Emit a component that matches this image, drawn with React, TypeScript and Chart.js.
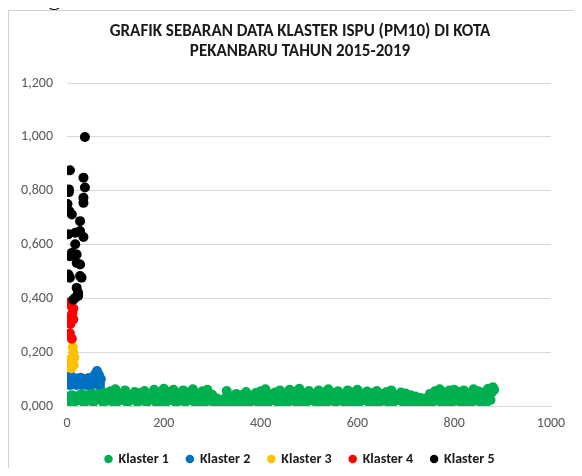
import React, { useEffect, useRef } from 'react';
import { Chart, registerables } from 'chart.js';

Chart.register(...registerables);

const titleLines = ['GRAFIK SEBARAN DATA KLASTER ISPU (PM10) DI KOTA', 'PEKANBARU TAHUN 2015-2019'];
const seriesNames = ['Klaster 1', 'Klaster 2', 'Klaster 3', 'Klaster 4', 'Klaster 5'];
const seriesColors = ['#00B050', '#0070C0', '#FFC000', '#FF0000', '#000000'];
const xTickLabels = ['0', '200', '400', '600', '800', '1000'];
const yTickLabels = ['0,000', '0,200', '0,400', '0,600', '0,800', '1,000', '1,200'];

// Klaster 1: data index step 5 (index 0..880), plus in-between samples (index 2.5..882.5)
const klaster1Step = 5;
const klaster1Y = [
  0.035, 0.018, 0.040, 0.015, 0.030, 0.022, 0.045, 0.012, 0.038, 0.020,
  0.050, 0.015, 0.042, 0.025, 0.060, 0.013, 0.048, 0.020, 0.055, 0.016,
  0.062, 0.018, 0.045, 0.022, 0.058, 0.012, 0.040, 0.025, 0.052, 0.015,
  0.048, 0.020, 0.056, 0.014, 0.044, 0.024, 0.060, 0.012, 0.050, 0.018,
  0.064, 0.016, 0.052, 0.022, 0.060, 0.013, 0.047, 0.020, 0.058, 0.015,
  0.050, 0.022, 0.062, 0.012, 0.045, 0.018, 0.055, 0.014, 0.060, 0.020,
  0.042, 0.012, 0.028, 0.006, 0.022, 0.008, 0.056, 0.010, 0.035, 0.015,
  0.045, 0.012, 0.040, 0.018, 0.052, 0.010, 0.038, 0.020, 0.048, 0.014,
  0.055, 0.016, 0.062, 0.012, 0.044, 0.022, 0.050, 0.015, 0.058, 0.018,
  0.046, 0.014, 0.060, 0.020, 0.052, 0.012, 0.064, 0.018, 0.048, 0.015,
  0.056, 0.022, 0.045, 0.013, 0.058, 0.018, 0.050, 0.012, 0.062, 0.020,
  0.048, 0.015, 0.055, 0.020, 0.044, 0.012, 0.058, 0.018, 0.050, 0.014,
  0.060, 0.016, 0.046, 0.022, 0.054, 0.012, 0.048, 0.018, 0.056, 0.014,
  0.045, 0.020, 0.052, 0.012, 0.058, 0.016, 0.042, 0.022, 0.050, 0.013,
  0.046, 0.018, 0.040, 0.012, 0.035, 0.010, 0.030, 0.008, 0.028, 0.014,
  0.045, 0.016, 0.055, 0.020, 0.062, 0.012, 0.050, 0.018, 0.058, 0.014,
  0.060, 0.020, 0.052, 0.012, 0.058, 0.018, 0.046, 0.015, 0.062, 0.020,
  0.055, 0.014, 0.050, 0.010, 0.064, 0.022, 0.070,
];
const klaster1MidY = [
  0.028, 0.032, 0.025, 0.036, 0.030, 0.027, 0.034, 0.029, 0.031, 0.026,
  0.035, 0.030, 0.040, 0.028, 0.033, 0.038, 0.030, 0.036, 0.027, 0.034,
  0.030, 0.038, 0.032, 0.042, 0.028, 0.035, 0.031, 0.037, 0.029, 0.040,
  0.033, 0.028, 0.036, 0.031, 0.040, 0.027, 0.034, 0.038, 0.030, 0.035,
  0.029, 0.040, 0.033, 0.036, 0.028, 0.042, 0.031, 0.035, 0.030, 0.038,
  0.034, 0.030, 0.037, 0.028, 0.040, 0.033, 0.029, 0.036, 0.031, 0.035,
  0.028, 0.020, 0.016, 0.018, 0.014, 0.030, 0.025, 0.022, 0.028, 0.030,
  0.032, 0.028, 0.035, 0.030, 0.027, 0.036, 0.031, 0.034, 0.029, 0.037,
  0.030, 0.036, 0.028, 0.040, 0.033, 0.029, 0.038, 0.032, 0.035, 0.030,
  0.037, 0.031, 0.034, 0.028, 0.040, 0.033, 0.030, 0.036, 0.029, 0.035,
  0.031, 0.038, 0.030, 0.035, 0.028, 0.040, 0.032, 0.036, 0.030, 0.034,
  0.036, 0.029, 0.033, 0.038, 0.030, 0.035, 0.028, 0.037, 0.032, 0.030,
  0.034, 0.030, 0.038, 0.029, 0.035, 0.032, 0.036, 0.028, 0.033, 0.037,
  0.030, 0.035, 0.028, 0.036, 0.031, 0.034, 0.029, 0.033, 0.030, 0.032,
  0.028, 0.030, 0.025, 0.027, 0.022, 0.024, 0.020, 0.022, 0.025, 0.030,
  0.034, 0.038, 0.030, 0.040, 0.033, 0.036, 0.031, 0.039, 0.034, 0.037,
  0.035, 0.040, 0.032, 0.038, 0.036, 0.030, 0.041, 0.034, 0.038, 0.033,
  0.036, 0.030, 0.040, 0.034, 0.045, 0.050, 0.060,
];

const klaster2X = [0, 2, 4, 6, 8, 10, 12, 14, 17, 18, 20, 22, 25, 28, 30, 32, 35, 38, 40, 43, 45, 46, 48, 50, 53, 55, 58, 60, 62, 64, 66, 68, 70];
const klaster2Y = [0.110, 0.085, 0.100, 0.078, 0.112, 0.090, 0.080, 0.095, 0.085, 0.102, 0.078, 0.092, 0.082, 0.105, 0.080, 0.098, 0.085, 0.100, 0.078, 0.090, 0.104, 0.082, 0.095, 0.080, 0.088, 0.105, 0.118, 0.082, 0.130, 0.095, 0.115, 0.080, 0.100];

const klaster3X = [12, 13, 15, 8, 3, 10, 5, 14, 2, 9];
const klaster3Y = [0.218, 0.198, 0.180, 0.175, 0.165, 0.162, 0.150, 0.152, 0.145, 0.140];

const klaster4X = [4, 9, 13, 11, 5, 9, 13, 7, 6, 10];
const klaster4Y = [0.385, 0.372, 0.362, 0.345, 0.330, 0.318, 0.322, 0.305, 0.270, 0.250];

const klaster5X = [37, 6, 34, 4, 4, 37, 34, 34, 1, 5, 10, 27, 3, 17, 27, 34, 17, 10, 6, 20, 20, 27, 3, 6, 27, 30, 20, 23, 17, 23, 13];
const klaster5Y = [1.000, 0.876, 0.848, 0.805, 0.795, 0.812, 0.774, 0.755, 0.751, 0.724, 0.712, 0.687, 0.638, 0.644, 0.650, 0.628, 0.601, 0.569, 0.557, 0.563, 0.532, 0.526, 0.489, 0.477, 0.483, 0.477, 0.439, 0.421, 0.402, 0.409, 0.395];

const FONT = 'Carlito, Calibri, Lato, sans-serif';

function pts(xs: number[], ys: number[]) {
  return ys.map((y, i) => ({ x: xs[i], y }));
}

export default function App() {
  const ref = useRef<HTMLCanvasElement | null>(null);

  useEffect(() => {
    if (!ref.current) return;
    const klaster1X = klaster1Y.map((_, i) => i * klaster1Step);
    const klaster1MidX = klaster1MidY.map((_, i) => i * klaster1Step + klaster1Step / 2);
    const sets = [
      pts(klaster1X, klaster1Y).concat(pts(klaster1MidX, klaster1MidY)),
      pts(klaster2X, klaster2Y),
      pts(klaster3X, klaster3Y),
      pts(klaster4X, klaster4Y),
      pts(klaster5X, klaster5Y),
    ];
    const chart = new Chart(ref.current, {
      type: 'scatter',
      data: {
        datasets: sets.map((d, i) => ({
          label: seriesNames[i],
          data: d,
          backgroundColor: seriesColors[i],
          borderColor: seriesColors[i],
          pointRadius: 5,
          pointBorderWidth: 0,
          pointHoverRadius: 5,
          order: 5 - i,
        })),
      },
      options: {
        animation: false,
        responsive: false,
        maintainAspectRatio: false,
        layout: { padding: 0 },
        plugins: {
          tooltip: { enabled: false },
          title: {
            display: true,
            text: titleLines,
            color: '#1a1a1a',
            font: { family: FONT, size: 17, weight: 'bold', lineHeight: 1.18 },
            padding: { top: 11, bottom: 21 },
          },
          legend: {
            position: 'bottom',
            labels: {
              usePointStyle: true,
              pointStyle: 'circle',
              boxWidth: 6,
              boxHeight: 6,
              padding: 18,
              color: '#1a1a1a',
              font: { family: FONT, size: 14, weight: 'bold' },
              sort: (a: any, b: any) => a.datasetIndex - b.datasetIndex,
            },
          },
        },
        scales: {
          x: {
            type: 'linear',
            min: 0,
            max: 1000,
            afterFit: (s: any) => { s.height = 28; },
            ticks: {
              stepSize: 200,
              color: '#595959',
              font: { family: FONT, size: 14 },
              padding: 9,
              maxRotation: 0,
              callback: (_v: any, i: number) => xTickLabels[i],
            },
            grid: { display: false, drawTicks: false },
            border: { display: true, color: '#d9d9d9' },
          },
          y: {
            min: 0,
            max: 1.2,
            afterFit: (s: any) => { s.width = 58; },
            ticks: {
              stepSize: 0.2,
              color: '#595959',
              font: { family: FONT, size: 14 },
              padding: 14,
              callback: (_v: any, i: number) => yTickLabels[i],
            },
            grid: { color: '#d9d9d9', drawTicks: false },
            border: { display: false },
          },
          yRightSpace: {
            position: 'right',
            min: 0,
            max: 1.2,
            afterFit: (s: any) => { s.width = 40; },
            ticks: { display: false },
            grid: { display: false, drawTicks: false },
            border: { display: false },
          },
        },
      },
    } as any);
    return () => chart.destroy();
  }, []);

  return (
    <div style={{ position: 'relative', marginTop: -8, marginLeft: -8, marginBottom: -8, width: 582, height: 476, overflow: 'hidden', background: '#fff' }}>
      <div style={{ position: 'absolute', left: 0, top: 0, width: 582, height: 10, overflow: 'hidden' }}>
        <div style={{ position: 'absolute', left: -3, top: -15, font: '24px "Liberation Serif", "Times New Roman", serif', lineHeight: '24px', whiteSpace: 'nowrap', color: '#000' }}>pada gambar</div>
      </div>
      <div style={{ position: 'absolute', left: 8, top: 10, width: 600, height: 500, border: '1px solid #d0d0d0', boxSizing: 'border-box', background: '#fff' }}>
        <canvas ref={ref} width={582} height={465} style={{ position: 'absolute', left: 0, top: 0, width: 582, height: 465, display: 'block' }} />
      </div>
    </div>
  );
}
